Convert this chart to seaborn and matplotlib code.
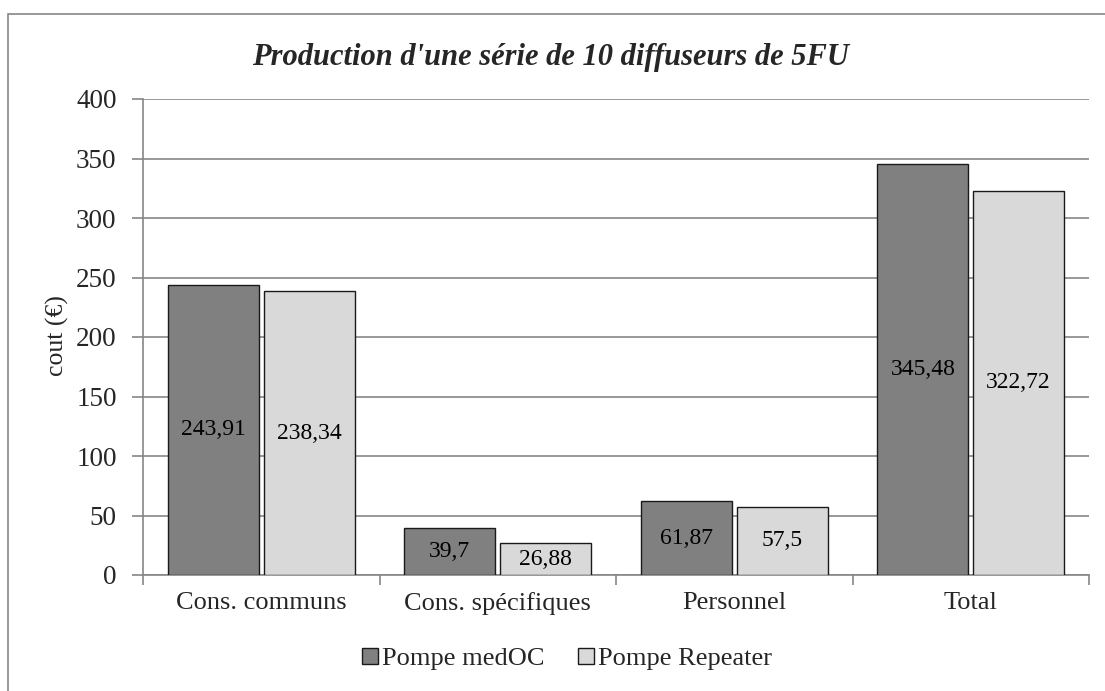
import matplotlib
matplotlib.use("Agg")
import matplotlib.pyplot as plt
import seaborn as sns
import pandas as pd
from matplotlib.patches import Rectangle

categories = ["Cons. communs", "Cons. spécifiques", "Personnel", "Total"]
series_names = ["Pompe medOC", "Pompe Repeater"]
medoc = [243.91, 39.7, 61.87, 345.48]
repeater = [238.34, 26.88, 57.5, 322.72]
labels_medoc = ["243,91", "39,7", "61,87", "345,48"]
labels_repeater = ["238,34", "26,88", "57,5", "322,72"]
yticks = [0, 50, 100, 150, 200, 250, 300, 350, 400]

df = pd.DataFrame({
    "cat": categories * 2,
    "serie": [series_names[0]] * 4 + [series_names[1]] * 4,
    "val": medoc + repeater,
})

sns.set_theme(style="white")
plt.rcParams["font.family"] = ["Liberation Serif", "DejaVu Serif"]

fig = plt.figure(figsize=(11.05, 6.91), dpi=100)
ax = fig.add_axes([143/1105, 1 - 575/691, (1089-143)/1105, (575-99)/691])

sns.barplot(data=df, x="cat", y="val", hue="serie", order=categories,
            hue_order=series_names, palette=["#808080", "#D9D9D9"],
            width=0.81, gap=0.05, edgecolor="#1a1a1a", linewidth=1.0,
            ax=ax, legend=False, zorder=3)

for cont, labs in zip(ax.containers, [labels_medoc, labels_repeater]):
    ax.bar_label(cont, labels=labs, label_type="center", fontsize=17, color="black")

ax.set_ylim(0, 400)
ax.set_xlim(-0.5, 3.5)
ax.set_yticks(yticks)
ax.set_yticklabels([str(v) for v in yticks], fontsize=19.5)
ax.yaxis.grid(True, color="#868686", linewidth=1.2, zorder=0)
ax.set_axisbelow(True)
ax.set_xticks(range(4))
ax.set_xticklabels(categories, fontsize=19)
ax.tick_params(axis="x", length=0, pad=12)
ax.tick_params(axis="y", length=8, color="#868686", width=1.2, left=True, pad=11)
ax.set_xticks([-0.5, 0.5, 1.5, 2.5, 3.5], minor=True)
ax.tick_params(axis="x", which="minor", length=7, color="#868686", width=1.2, bottom=True, direction="out")

for s in ["top", "right"]:
    ax.spines[s].set_visible(False)
for s in ["left", "bottom"]:
    ax.spines[s].set_color("#868686")
    ax.spines[s].set_linewidth(1.2)

ax.set_xlabel("")
ax.set_ylabel("")
fig.text(57/1105, 1 - 336/691, "cout (€)", rotation=90, ha="center", va="center", fontsize=18.5)

fig.text(550/1105, 1 - 57/691, "Production d'une série de 10 diffuseurs de 5FU",
         ha="center", va="center", fontsize=22, fontweight="bold", fontstyle="italic")

handles = [Rectangle((0, 0), 1, 1, facecolor=c, edgecolor="#1a1a1a", linewidth=1.0)
           for c in ["#808080", "#D9D9D9"]]
fig.legend(handles, series_names, loc="center", bbox_to_anchor=(567/1105, 1 - 659/691),
           ncol=2, frameon=False, fontsize=19, handlelength=0.6, handleheight=0.6,
           handletextpad=0.15, columnspacing=1.3)

fig.add_artist(Rectangle((8/1105, -0.01), 1.1, 1 - 14/691 + 0.01, transform=fig.transFigure,
                         fill=False, edgecolor="#868686", linewidth=1.2))

fig.savefig("out.png", dpi=100)
